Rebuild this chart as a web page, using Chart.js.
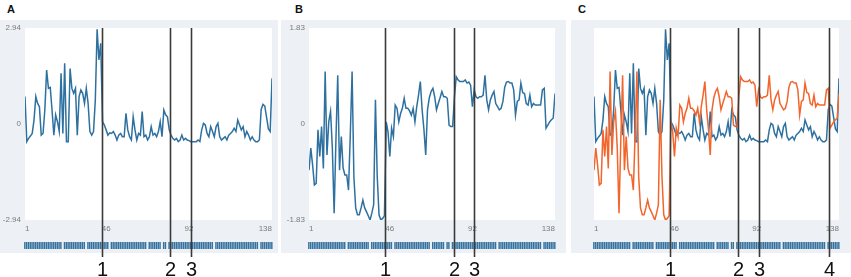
<!DOCTYPE html>
<html>
<head>
<meta charset="utf-8">
<script src="https://cdn.jsdelivr.net/npm/chart.js@4.4.0/dist/chart.umd.min.js"></script>
<style>
body { margin:0; background:#fff; width:851px; height:277px; overflow:hidden; position:relative; font-family:"Liberation Sans", Arial, sans-serif; }
canvas { position:absolute; top:0; }
.lbl { position:absolute; top:3px; font-weight:bold; font-size:11px; color:#111; }
</style>
</head>
<body>
<div class="lbl" style="left:7px">A</div>
<div class="lbl" style="left:295px">B</div>
<div class="lbl" style="left:578px">C</div>
<canvas id="chartA" width="280" height="277" style="left:0px"></canvas>
<canvas id="chartB" width="290" height="277" style="left:280px"></canvas>
<canvas id="chartC" width="281" height="277" style="left:570px"></canvas>
<script>
// time steps 1..138 and tick labels
const steps = Array.from({length: 138}, (_, i) => i + 1);
const xTicks = [1, 46, 92, 138];
const yTicksA = [-2.94, 0, 2.94];
const yTicksB = [-1.83, 0, 1.83];

// event markers (position on the time axis) and their labels
const markers = [43.5, 81.5, 93, 132.5];
const markerLabels = ['1', '2', '3', '4'];

// steps without a mark in the strip under each panel
const rugMissing = [22, 35, 48, 69, 77, 80, 106, 131];

// series A (blue)
const seriesA = [
  0.84, -0.54, -0.44, -0.37, -0.29, 0.12, 0.84, 0.63, 0.53, -0.34,
  -0.29, 0.43, 1.65, 1.09, 1.12, 0.43, -0.34, 0.28, 0.07, -0.23,
  1.55, -0.29, 1.86, -0.54, -0.54, 1.70, 1.09, 0.94, 1.09, -0.34,
  0.84, 1.04, 0.94, 0.63, 1.09, 0.63, -0.23, -0.34, -0.23, 0.73,
  2.90, 1.96, 2.47, 0.07, -0.03, -0.18, -0.34, -0.27, -0.29, -0.23,
  -0.34, -0.49, -0.34, -0.29, -0.39, -0.39, 0.33, -0.18, -0.39, -0.49,
  0.22, -0.18, -0.49, -0.29, -0.34, 0.38, -0.39, -0.34, -0.49, -0.39,
  -0.08, -0.34, -0.29, -0.39, -0.23, 0.07, -0.39, 0.43, 0.28, 0.22,
  -0.18, -0.34, -0.44, -0.49, -0.44, -0.54, -0.49, -0.34, -0.49, -0.44,
  -0.49, -0.51, -0.54, -0.54, -0.54, -0.54, -0.49, -0.54, -0.18, 0.02,
  -0.03, -0.29, -0.39, -0.08, -0.23, -0.39, -0.08, 0.02, -0.39, -0.49,
  -0.44, -0.39, -0.49, -0.34, -0.29, -0.23, -0.13, -0.23, 0.12, -0.03,
  -0.18, -0.08, -0.39, -0.23, -0.34, -0.49, -0.39, -0.49, -0.54, -0.54,
  -0.49, 0.45, 0.60, 0.55, 0.20, -0.15, -0.23, 1.40
];

// series B (blue in B, orange in C)
const seriesB = [
  -0.88, -0.46, -0.78, -1.16, -1.13, -0.11, -0.62, -0.05, -0.85, 1.00,
  -0.59, 0.04, 0.24, -0.46, -1.70, -0.30, 0.93, -0.88, -0.24, -0.84,
  -0.97, -0.97, -1.26, -0.20, 1.00, -1.01, -1.60, -1.73, -1.73, -1.60,
  -1.45, -1.60, -1.67, -1.75, -1.83, -1.70, -1.54, 0.46, -1.00, -1.73,
  -1.83, -1.80, -1.75, 0.04, -0.15, -0.62, -0.08, -0.24, 0.36, 0.30,
  0.04, 0.20, 0.30, 0.49, 0.30, 0.30, 0.25, 0.17, 0.30, 0.04,
  0.33, 0.55, 0.81, 0.27, -0.10, -0.59, 0.27, 0.50, 0.62, 0.68,
  0.52, 0.27, 0.39, 0.50, 0.62, 0.52, 0.52, 0.49, -0.02, -0.05,
  -0.05, 0.52, 0.90, 0.84, 0.81, 0.81, 0.81, 0.84, 0.78, 0.80,
  0.74, 0.33, 0.65, 0.52, 0.49, 0.52, 0.52, 0.55, 0.93, 0.46,
  0.27, 0.46, 0.55, 0.62, 0.39, 0.33, 0.27, 0.30, 0.43, 0.70,
  0.80, 0.81, 0.78, 0.78, 0.65, 0.17, 0.43, 0.46, 0.78, 0.60,
  0.58, 0.39, 0.36, 0.55, 0.33, 0.39, 0.36, 0.36, 0.36, 0.36,
  0.65, 0.68, -0.08, -0.02, 0.04, 0.08, 0.11, 0.58
];

const BLUE = '#2e71a0';
const ORANGE = '#f2652c';
const FONT = '"Liberation Sans", Arial, sans-serif';

// gray frame, white plot, strip of marks, marker lines with numbers
const decor = {
  id: 'decor',
  beforeDraw(chart, args, o) {
    const ctx = chart.ctx, a = chart.chartArea;
    ctx.save();
    ctx.fillStyle = '#edf1f5';
    ctx.fillRect(o.panel[0], o.panel[1], o.panel[2], o.panel[3]);
    ctx.fillStyle = '#fff';
    ctx.fillRect(a.left, a.top, a.right - a.left, a.bottom - a.top);
    ctx.restore();
  },
  afterDatasetsDraw(chart, args, o) {
    const ctx = chart.ctx, a = chart.chartArea, xs = chart.scales.x;
    const step = xs.getPixelForValue(2) - xs.getPixelForValue(1);
    ctx.save();
    ctx.fillStyle = '#3572a0';
    steps.forEach(i => {
      if (rugMissing.includes(i)) return;
      const px = xs.getPixelForValue(i);
      ctx.fillRect(px - step / 2, 242, step - 0.35, 7);
    });
    ctx.strokeStyle = '#3a3a3a';
    ctx.lineWidth = 1.6;
    ctx.fillStyle = '#111';
    ctx.font = '20px ' + FONT;
    ctx.textAlign = 'center';
    markers.slice(0, o.count).forEach((m, k) => {
      const px = Math.round(xs.getPixelForValue(m)) + 0.5;
      ctx.beginPath();
      ctx.moveTo(px, a.top);
      ctx.lineTo(px, 257);
      ctx.stroke();
      ctx.fillText(markerLabels[k], px, 276);
    });
    ctx.restore();
  }
};

function xScale() {
  return {
    type: 'linear', min: 1, max: 138,
    afterBuildTicks: s => { s.ticks = xTicks.map(v => ({value: v})); },
    afterFit: s => { s.height = 20; },
    grid: {display: false, drawTicks: false},
    border: {display: false},
    ticks: {autoSkip: false, maxRotation: 0, align: 'inner', padding: 4, color: '#7b7b7b',
            font: {size: 8, family: FONT}, callback: v => String(v)}
  };
}

function yScale(lim, ticks, show) {
  return {
    display: show, min: -lim, max: lim,
    afterBuildTicks: s => { s.ticks = ticks.map(v => ({value: v})); },
    afterFit: s => { s.width = show ? 25 : 0; },
    grid: {display: false, drawTicks: false},
    border: {display: false},
    ticks: {padding: 4, color: '#7b7b7b', font: {size: 8, family: FONT},
            callback: v => v === 0 ? '0' : v.toFixed(2)}
  };
}

function line(values, color, axis) {
  return {
    data: values.map((v, i) => ({x: steps[i], y: v})),
    yAxisID: axis,
    borderColor: color, borderWidth: 1.5,
    pointRadius: 0, tension: 0, fill: false
  };
}

function makeChart(id, datasets, scales, padding, panel, count) {
  return new Chart(document.getElementById(id), {
    type: 'line',
    data: {datasets: datasets},
    options: {
      responsive: false, animation: false, devicePixelRatio: 1,
      layout: {padding: padding},
      scales: scales,
      plugins: {legend: {display: false}, tooltip: {enabled: false},
                decor: {panel: panel, count: count}}
    },
    plugins: [decor]
  });
}

makeChart('chartA', [line(seriesA, BLUE, 'y')],
  {x: xScale(), y: yScale(2.94, yTicksA, true)},
  {left: 0, top: 28, right: 8, bottom: 37}, [0, 20, 278, 233], 3);

makeChart('chartB', [line(seriesB, BLUE, 'y')],
  {x: xScale(), y: yScale(1.83, yTicksB, true)},
  {left: 4, top: 28, right: 15, bottom: 37}, [1, 20, 285, 233], 3);

makeChart('chartC', [line(seriesB, ORANGE, 'y2'), line(seriesA, BLUE, 'y')],
  {x: xScale(), y: yScale(2.94, yTicksA, false), y2: yScale(1.83, yTicksB, false)},
  {left: 24, top: 28, right: 12, bottom: 37}, [1, 20, 281, 233], 4);
</script>
</body>
</html>
